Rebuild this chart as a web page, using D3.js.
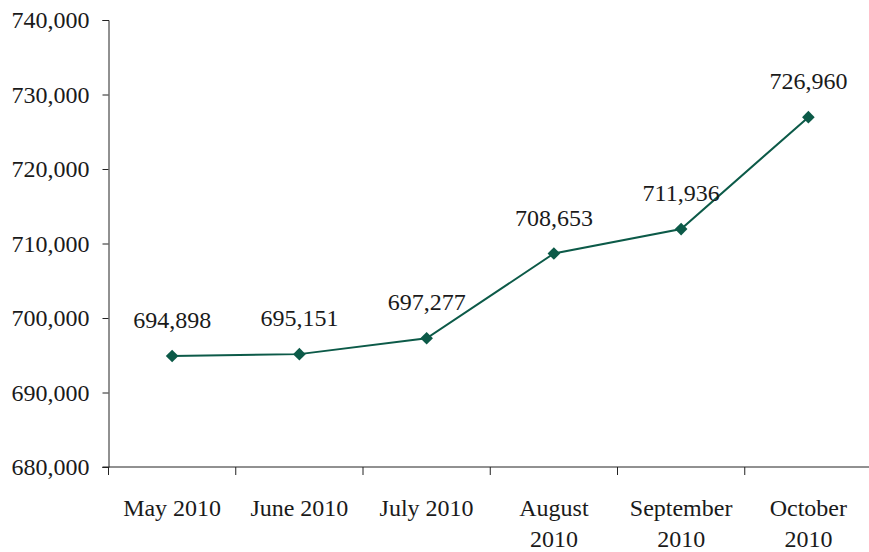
<!DOCTYPE html>
<html>
<head>
<meta charset="utf-8">
<script src="https://cdn.jsdelivr.net/npm/d3@7"></script>
<style>
  body { margin: 0; background: #fff; }
  text { font-family: "Liberation Serif", "DejaVu Serif", serif; fill: #1a1a1a; }
</style>
</head>
<body>
<svg id="chart" width="869" height="552"></svg>
<script>
const months = [["May 2010"], ["June 2010"], ["July 2010"], ["August", "2010"], ["September", "2010"], ["October", "2010"]]
const values = [694898, 695151, 697277, 708653, 711936, 726960]
const yTicks = [680000, 690000, 700000, 710000, 720000, 730000, 740000]

const plotLeft = 108.5, plotRight = 872, plotTop = 20, plotBottom = 467
const svg = d3.select('#chart')
const lineColor = '#0c5a48'

// scales
const x = d3.scaleBand().domain(months.map((d, i) => i)).range([plotLeft, plotRight])
const y = d3.scaleLinear().domain([680000, 740000]).range([plotBottom, plotTop])

// y axis
const yAxis = svg.append('g').attr('transform', `translate(${plotLeft},0)`)
  .call(d3.axisLeft(y).tickValues(yTicks).tickSize(6).tickPadding(13).tickFormat(d3.format(',')))
yAxis.selectAll('text').style('font-size', '24px')
yAxis.selectAll('line, path').attr('stroke', '#222')

// x axis, ticks between categories
const xAxis = svg.append('g').attr('transform', `translate(0,${plotBottom})`)
xAxis.append('line').attr('x1', plotLeft - 6).attr('x2', 869).attr('stroke', '#222')
xAxis.selectAll('line.tick').data(months).enter().append('line')
  .attr('x1', (d, i) => x(i)).attr('x2', (d, i) => x(i))
  .attr('y1', 0).attr('y2', 8).attr('stroke', '#222')
xAxis.selectAll('text.lab').data(months).enter().append('text')
  .attr('x', (d, i) => x(i) + x.bandwidth() / 2)
  .attr('y', 49)
  .attr('text-anchor', 'middle')
  .style('font-size', '24px')
  .each(function (d) {
    d3.select(this).selectAll('tspan').data(d).enter().append('tspan')
      .attr('x', d3.select(this).attr('x'))
      .attr('dy', (t, j) => j === 0 ? 0 : 31)
      .text(t => t)
  })

const cx = (d, i) => x(i) + x.bandwidth() / 2

// line
const line = d3.line().x(cx).y(d => y(d))
svg.append('path').datum(values)
  .attr('d', line).attr('fill', 'none').attr('stroke', lineColor).attr('stroke-width', 2)

// markers
svg.selectAll('path.pt').data(values).enter().append('path')
  .attr('d', d3.symbol(d3.symbolSquare, 80)())
  .attr('transform', (d, i) => `translate(${cx(d, i)},${y(d)}) rotate(45)`)
  .attr('fill', lineColor)

// value labels
svg.selectAll('text.val').data(values).enter().append('text')
  .attr('x', cx).attr('y', d => y(d) - 28)
  .attr('text-anchor', 'middle')
  .style('font-size', '24px')
  .text(d => d3.format(',')(d))
</script>
</body>
</html>
